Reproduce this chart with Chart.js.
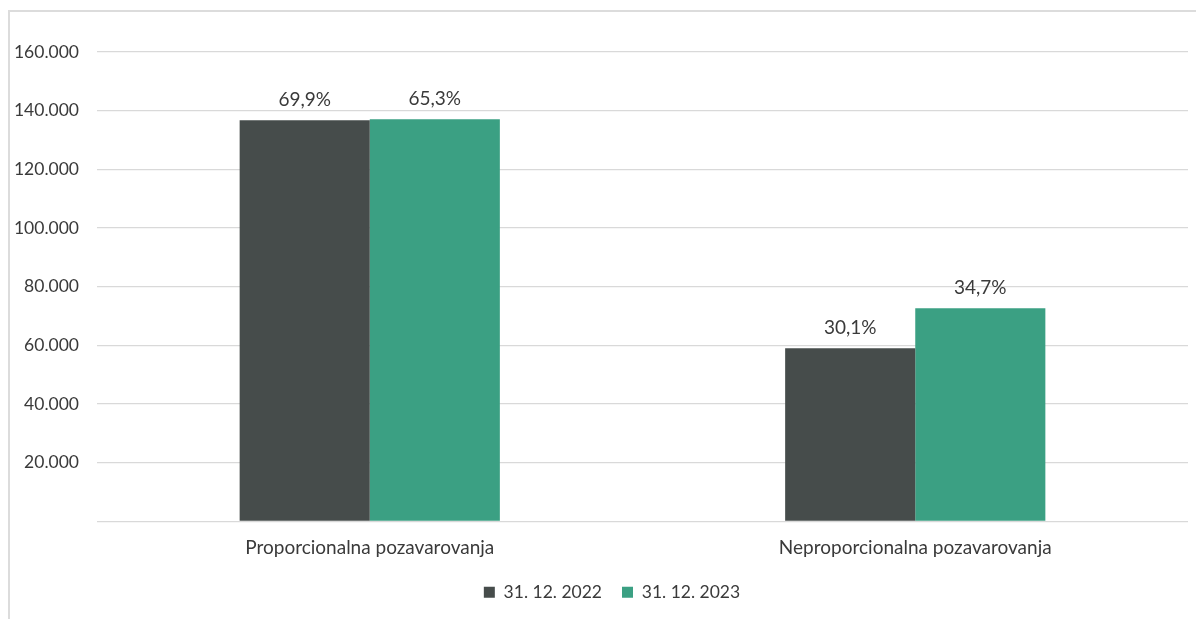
<!DOCTYPE html>
<html><head><meta charset="utf-8">
<script src="https://cdn.jsdelivr.net/npm/chart.js@4/dist/chart.umd.min.js"></script>
<style>
html,body{margin:0;padding:0;background:#fff;overflow:hidden;width:1196px;height:619px}
#frame{position:absolute;left:8px;top:10px;width:1300px;height:700px;border-left:2px solid #dcdcdc;border-top:2px solid #dcdcdc}
#wrap{position:absolute;left:0;top:0;width:1196px;height:619px}
</style></head><body>
<div id="frame"></div>
<div id="wrap"><canvas id="c" width="1196" height="619"></canvas></div>
<script>
const categories = ['Proporcionalna pozavarovanja', 'Neproporcionalna pozavarovanja'];
const seriesNames = ['31. 12. 2022', '31. 12. 2023'];
const values2022 = [136700, 59000];
const values2023 = [137100, 72700];
const shares2022 = ['69,9%', '30,1%'];
const shares2023 = ['65,3%', '34,7%'];
const yMin = 0, yMax = 160000, yStep = 20000;

const FONT = 'Lato';
const TXT = '#3a3a3a';

function fmt(v) {
  return String(v).replace(/\B(?=(\d{3})+(?!\d))/g, '.');
}

const labelPlugin = {
  id: 'barLabels',
  afterLayout(chart) {
    // centre the legend like the reference (slightly right of canvas centre)
    if (chart.legend) { chart.legend.left += 36; }
  },
  afterDatasetsDraw(chart) {
    const ctx = chart.ctx;
    ctx.save();
    ctx.font = '19px ' + FONT;
    ctx.fillStyle = TXT;
    ctx.textAlign = 'center';
    ctx.textBaseline = 'middle';
    chart.data.datasets.forEach((ds, i) => {
      chart.getDatasetMeta(i).data.forEach((bar, j) => {
        ctx.fillText(ds.shareLabels[j], bar.x, bar.y - 20);
      });
    });
    ctx.restore();
  }
};

new Chart(document.getElementById('c'), {
  type: 'bar',
  data: {
    labels: categories,
    datasets: [
      { label: seriesNames[0], data: values2022, shareLabels: shares2022, backgroundColor: '#464c4b' },
      { label: seriesNames[1], data: values2023, shareLabels: shares2023, backgroundColor: '#3ba083' }
    ]
  },
  options: {
    responsive: false,
    animation: false,
    devicePixelRatio: 1,
    layout: { padding: { left: 0, right: 8, top: 52, bottom: 8 } },
    datasets: { bar: { categoryPercentage: 0.477, barPercentage: 1.0 } },
    plugins: {
      tooltip: { enabled: false },
      legend: {
        position: 'bottom',
        labels: {
          boxWidth: 11, boxHeight: 11, padding: 20,
          color: TXT, font: { family: FONT, size: 17.5 }
        }
      }
    },
    scales: {
      x: {
        grid: { display: false },
        border: { display: false },
        ticks: { color: TXT, font: { family: FONT, size: 19 }, padding: 7 },
        afterFit(s) { s.height = 42; }
      },
      y: {
        min: yMin, max: yMax,
        grid: { color: '#d9d9d9', lineWidth: 1.3, drawTicks: false },
        border: { display: false },
        ticks: {
          stepSize: yStep, padding: 18, color: TXT,
          font: { family: FONT, size: 17.5 },
          callback: v => v === 0 ? '' : fmt(v)
        },
        afterFit(s) { s.width = 97; }
      }
    }
  },
  plugins: [labelPlugin]
});
</script>
</body></html>
